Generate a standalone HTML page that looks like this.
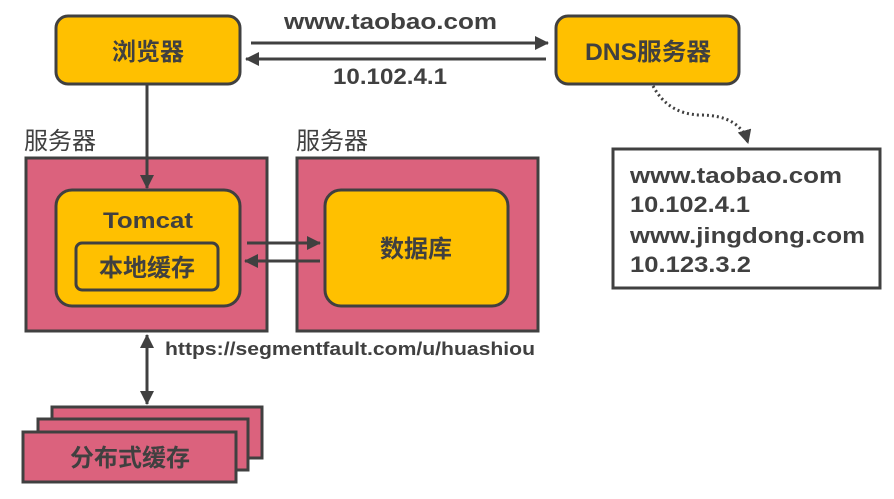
<!DOCTYPE html>
<html><head><meta charset="utf-8"><style>
body{margin:0;background:#fff;}
svg text{font-family:"Liberation Sans","Noto Sans CJK SC",sans-serif;font-weight:bold;fill:#404040;}
</style></head><body>
<svg width="894" height="494" viewBox="0 0 894 494" xmlns="http://www.w3.org/2000/svg">
<defs>
<marker id="as" markerWidth="14" markerHeight="14" refX="13" refY="7" orient="auto-start-reverse" markerUnits="userSpaceOnUse">
<path d="M0,0 L14,7 L0,14 z" fill="#404040"/></marker>
</defs>
<g stroke="#404040" stroke-width="3">
<rect x="56" y="16" width="184" height="68" rx="12" fill="#ffc000"/>
<rect x="556" y="16" width="183" height="68" rx="12" fill="#ffc000"/>
<rect x="26" y="158" width="241" height="173" fill="#db627d"/>
<rect x="297" y="158" width="241" height="173" fill="#db627d"/>
<rect x="56" y="190" width="184" height="116" rx="16" fill="#ffc000"/>
<rect x="76" y="243" width="142" height="47" rx="6" fill="#ffc000"/>
<rect x="325" y="190" width="183" height="116" rx="16" fill="#ffc000"/>
<rect x="52" y="407" width="210" height="51" fill="#db627d"/>
<rect x="38" y="419" width="210" height="51" fill="#db627d"/>
<rect x="23" y="432" width="213" height="50" fill="#db627d"/>
<rect x="613" y="149" width="267" height="139" fill="#fff"/>
</g>
<g stroke="#404040" stroke-width="3" fill="none">
<line x1="251" y1="43" x2="548" y2="43" marker-end="url(#as)"/>
<line x1="546" y1="59" x2="246" y2="59" marker-end="url(#as)"/>
<line x1="147" y1="85" x2="147" y2="188" marker-end="url(#as)"/>
<line x1="247" y1="243" x2="320" y2="243" marker-end="url(#as)"/>
<line x1="320" y1="261" x2="245" y2="261" marker-end="url(#as)"/>
<line x1="147" y1="335" x2="147" y2="404" marker-start="url(#as)" marker-end="url(#as)"/>
<path d="M653,86 Q668,114 700,115 Q740,115 748,143" stroke-dasharray="2,3" marker-end="url(#as)"/>
</g>
<text x="148" y="60" font-size="24" text-anchor="middle">浏览器</text>
<text x="585" y="60" font-size="24" textLength="126" lengthAdjust="spacingAndGlyphs">DNS服务器</text>
<text x="284" y="29" font-size="22" textLength="213" lengthAdjust="spacingAndGlyphs">www.taobao.com</text>
<text x="333" y="84" font-size="22" textLength="114" lengthAdjust="spacingAndGlyphs">10.102.4.1</text>
<text x="24" y="149" font-size="24" style="font-weight:normal">服务器</text>
<text x="296" y="149" font-size="24" style="font-weight:normal">服务器</text>
<text x="103" y="228" font-size="22" textLength="90" lengthAdjust="spacingAndGlyphs">Tomcat</text>
<text x="147" y="276" font-size="24" text-anchor="middle">本地缓存</text>
<text x="416" y="257" font-size="24" text-anchor="middle">数据库</text>
<text x="165" y="355" font-size="18" textLength="370" lengthAdjust="spacingAndGlyphs">https://segmentfault.com/u/huashiou</text>
<text x="130" y="466" font-size="24" text-anchor="middle">分布式缓存</text>
<text x="630" y="183" font-size="22" textLength="212" lengthAdjust="spacingAndGlyphs">www.taobao.com</text>
<text x="630" y="212" font-size="22" textLength="120" lengthAdjust="spacingAndGlyphs">10.102.4.1</text>
<text x="630" y="243" font-size="22" textLength="235" lengthAdjust="spacingAndGlyphs">www.jingdong.com</text>
<text x="630" y="272" font-size="22" textLength="121" lengthAdjust="spacingAndGlyphs">10.123.3.2</text>
</svg>
</body></html>
